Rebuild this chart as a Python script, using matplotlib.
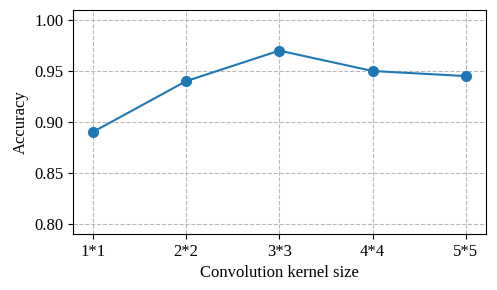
import matplotlib
matplotlib.use("Agg")
import matplotlib.pyplot as plt

plt.rcParams['font.family'] = ['Liberation Serif', 'DejaVu Serif']
plt.rcParams['font.size'] = 12

# datos
kernel_sizes = ["1*1", "2*2", "3*3", "4*4", "5*5"]
accuracy = [0.89, 0.94, 0.97, 0.95, 0.945]
y_ticks = [0.80, 0.85, 0.90, 0.95, 1.00]

fig, ax = plt.subplots(figsize=(4.97, 2.90), dpi=100)
ax.plot(range(len(kernel_sizes)), accuracy, marker='o', color='#1f77b4',
        linewidth=1.5, markersize=7)
ax.set_xticks(range(len(kernel_sizes)))
ax.set_xticklabels(kernel_sizes)
ax.set_yticks(y_ticks)
ax.set_ylim(0.79, 1.01)
ax.set_xlim(-0.21, 4.21)
ax.grid(True, linestyle='--', color='#b8b8b8', linewidth=0.8)
ax.set_xlabel("Convolution kernel size")
ax.set_ylabel("Accuracy")

fig.subplots_adjust(left=0.147, right=0.977, top=0.966, bottom=0.193)
fig.savefig("out.png", dpi=100)
